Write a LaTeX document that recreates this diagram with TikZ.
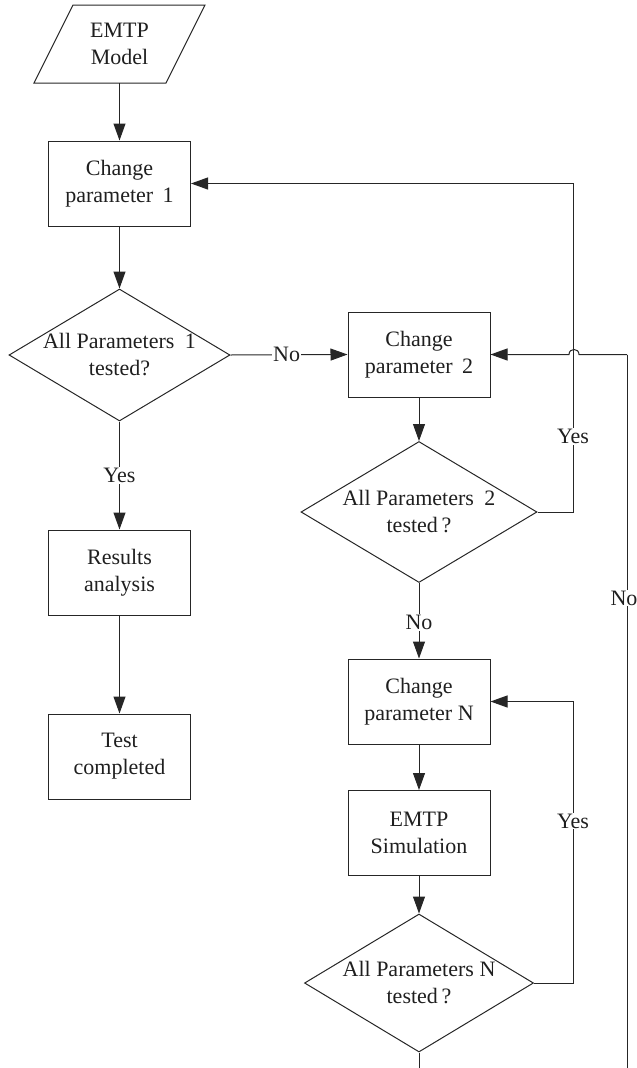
\documentclass[tikz,border=0pt]{standalone}
\usepackage{fontspec}
\setmainfont{Liberation Serif}
\usetikzlibrary{arrows.meta,shapes.geometric}
\tikzset{
  ln/.style={draw=black!85, line width=1pt},
  arr/.style={ln, -{Triangle[length=17pt,width=12pt]}},
  procbox/.style={ln, rectangle, minimum width=142pt, minimum height=85pt, inner sep=0pt, align=center, text=black!88, font=\fontsize{22}{27}\selectfont},
  dia/.style={ln, diamond, inner sep=0pt},
  txt/.style={align=center, text=black!88, font=\fontsize{22}{27}\selectfont},
  lbl/.style={fill=white, inner sep=1pt, text=black!88, font=\fontsize{22}{27}\selectfont},
}
\begin{document}
\begin{tikzpicture}[x=1pt,y=-1pt]
\useasboundingbox (0,0) rectangle (637,1068);
% input parallelogram
\node[txt, minimum width=132pt, minimum height=78pt, inner sep=0pt] (model) at (119.5,44) {EMTP\\Model};
\draw[ln] (73,5) -- (205,5) -- (166,83) -- (34,83) -- cycle;
% boxes
\node[procbox] (p1) at (119.5,183.5) {Change\\parameter\hspace{4pt} 1};
\node[procbox] (res) at (119.5,572.5) {Results\\analysis};
\node[procbox] (test) at (119.5,756.5) {Test\\completed};
\node[procbox] (p2) at (419,354.5) {Change\\parameter\hspace{4pt} 2};
\node[procbox] (pN) at (419,701.5) {Change\\parameter N};
\node[procbox] (sim) at (419,833) {EMTP\\Simulation};
% decisions
\node[dia, minimum width=221pt, minimum height=132pt, label={[txt]center:All Parameters\hspace{5pt} 1\\tested?}] (d1) at (119.5,355) {};
\node[dia, minimum width=236pt, minimum height=141pt, label={[txt]center:All Parameters\hspace{5pt} 2\\tested\,?}] (d2) at (419,512) {};
\node[dia, minimum width=229pt, minimum height=138pt, label={[txt]center:All Parameters N\\tested\,?}] (dN) at (419,983) {};
% helper coordinates
\coordinate (y2a) at (573,512);
\coordinate (y2b) at (573,183.5);
\coordinate (yNa) at (573,983);
\coordinate (yNb) at (573,701.5);
\coordinate (bot) at (419,1068);
\coordinate (nb) at (627,1068);
\coordinate (nt) at (627,354.5);
\coordinate (hopR) at (579,354.5);
\coordinate (hopL) at (569,354.5);
% connectors
\draw[arr] (model.south) -- (p1.north);
\draw[arr] (p1.south) -- (d1.north);
\draw[arr] (d1.east) -- node[lbl, pos=0.48] (no1) {No} (p2.west);
\draw[arr] (d1.south) -- node[lbl, pos=0.5] (yes1) {Yes} (res.north);
\draw[arr] (res.south) -- (test.north);
\draw[arr] (p2.south) -- (d2.north);
\draw[arr] (d2.east) -- (y2a) -- node[lbl, pos=0.23] (yes2) {Yes} (y2b) -- (p1.east);
\draw[arr] (d2.south) -- node[lbl, pos=0.52] (no2) {No} (pN.north);
\draw[arr] (pN.south) -- (sim.north);
\draw[arr] (sim.south) -- (dN.north);
\draw[arr] (dN.east) -- (yNa) -- node[lbl, pos=0.575] (yesN) {Yes} (yNb) -- (pN.east);
\draw[ln] (dN.south) -- (bot);
\draw[ln] (nb) -- (nt);
\node[lbl] (noR) at (624,598) {No};
\draw[arr] (nt) -- (hopR) .. controls (579,347.8) and (569,347.8) .. (hopL) -- (p2.east);
\end{tikzpicture}
\end{document}
